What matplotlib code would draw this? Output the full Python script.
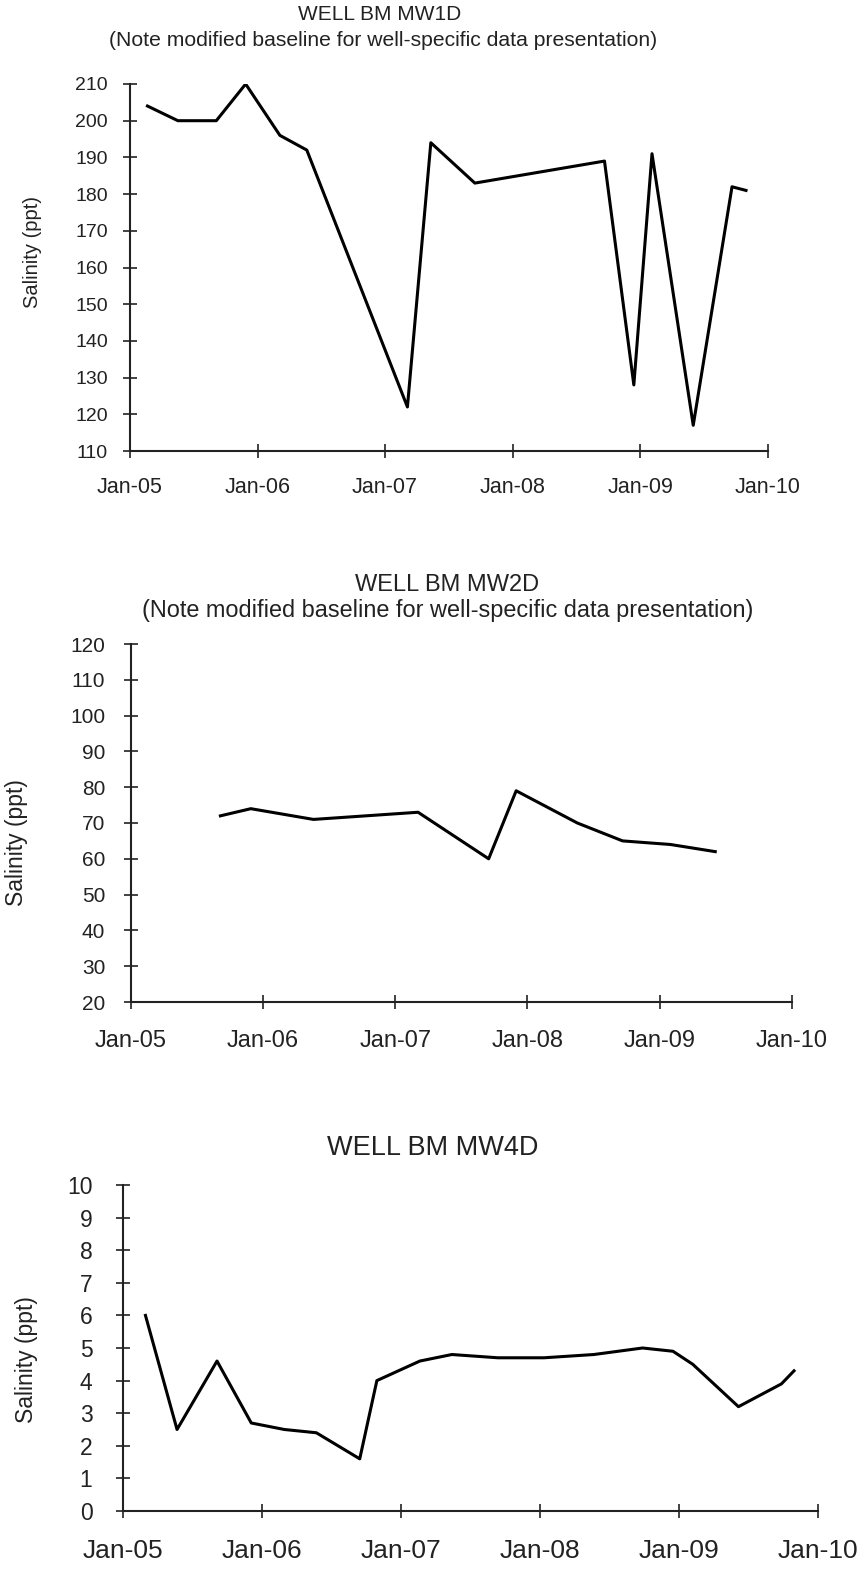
from datetime import date
import matplotlib
matplotlib.use("Agg")
import matplotlib.pyplot as plt
import matplotlib.dates as mdates

plt.rcParams['font.family'] = ['Liberation Sans', 'DejaVu Sans']

# Well BM MW1D
mw1d_dates = ["2005-02-20", "2005-05-18", "2005-09-05", "2005-11-28", "2006-03-06",
              "2006-05-22", "2007-03-06", "2007-05-12", "2007-09-15", "2008-09-20",
              "2008-12-13", "2009-02-03", "2009-06-01", "2009-09-20", "2009-10-30"]
mw1d_salinity = [204, 200, 200, 210, 196, 192, 122, 194, 183, 189, 128, 191, 117, 182, 181]

# Well BM MW2D
mw2d_dates = ["2005-09-05", "2005-11-28", "2006-05-20", "2007-03-05", "2007-09-16",
              "2007-12-01", "2008-05-18", "2008-09-20", "2009-01-30", "2009-06-03"]
mw2d_salinity = [72, 74, 71, 73, 60, 79, 70, 65, 64, 62]

# Well BM MW4D
mw4d_dates = ["2005-03-01", "2005-05-23", "2005-09-05", "2005-12-04", "2006-03-01",
              "2006-05-24", "2006-09-15", "2006-10-30", "2007-02-20", "2007-05-15",
              "2007-09-13", "2008-01-12", "2008-05-22", "2008-09-27", "2008-12-16",
              "2009-02-06", "2009-06-06", "2009-09-27", "2009-10-30"]
mw4d_salinity = [6.0, 2.5, 4.6, 2.7, 2.5, 2.4, 1.6, 4.0, 4.6, 4.8,
                 4.7, 4.7, 4.8, 5.0, 4.9, 4.5, 3.2, 3.9, 4.3]

subtitle = "(Note modified baseline for well-specific data presentation)"
year_ticks = [date(y, 1, 1) for y in range(2005, 2011)]

W, H = 866, 1574
fig = plt.figure(figsize=(W / 100, H / 100), dpi=100)


def px_axes(left, right, top, bottom):
    return fig.add_axes([left / W, 1 - bottom / H, (right - left) / W, (bottom - top) / H])


def draw_panel(ax, dates, values, ylim, ystep, yfs, xfs, ypad, xpad):
    ax.plot([date.fromisoformat(d) for d in dates], values, color='black', lw=2.2)
    ax.set_xlim(year_ticks[0], year_ticks[-1])
    ax.set_ylim(*ylim)
    ax.set_xticks(year_ticks)
    ax.xaxis.set_major_formatter(mdates.DateFormatter('%b-%y'))
    ax.set_yticks(range(ylim[0], ylim[1] + 1, ystep))
    for s in ['top', 'right']:
        ax.spines[s].set_visible(False)
    for s in ['left', 'bottom']:
        ax.spines[s].set_linewidth(1.5)
        ax.spines[s].set_color('#222222')
    ax.tick_params(axis='both', direction='inout', length=10, width=1.2, color='#222222')
    ax.tick_params(axis='y', labelsize=yfs, pad=ypad, labelcolor='#222222')
    ax.tick_params(axis='x', labelsize=xfs, pad=xpad, labelcolor='#222222')


# Panel 1
ax1 = px_axes(130, 768, 84, 451)
draw_panel(ax1, mw1d_dates, mw1d_salinity, (110, 210), 10, 14, 15.5, 11, 13.5)
fig.text(380 / W, 1 - 15 / H, "WELL BM MW1D", ha='center', va='center', fontsize=15, color='#222222')
fig.text(383 / W, 1 - 40 / H, subtitle, ha='center', va='center', fontsize=15.2, color='#222222')
fig.text(32 / W, 1 - 252 / H, "Salinity (ppt)", rotation=90, ha='center', va='center', fontsize=14.5, color='#222222')

# Panel 2
ax2 = px_axes(131, 792, 644, 1002)
draw_panel(ax2, mw2d_dates, mw2d_salinity, (20, 120), 10, 15, 17, 13.5, 15.5)
fig.text(447 / W, 1 - 585 / H, "WELL BM MW2D", ha='center', va='center', fontsize=17, color='#222222')
fig.text(448 / W, 1 - 610 / H, subtitle, ha='center', va='center', fontsize=16.9, color='#222222')
fig.text(17 / W, 1 - 843 / H, "Salinity (ppt)", rotation=90, ha='center', va='center', fontsize=16.5, color='#222222')

# Panel 3
ax3 = px_axes(123, 818, 1185, 1511)
draw_panel(ax3, mw4d_dates, mw4d_salinity, (0, 10), 1, 16.5, 19, 17, 15)
fig.text(433 / W, 1 - 1148 / H, "WELL BM MW4D", ha='center', va='center', fontsize=19.5, color='#222222')
fig.text(27 / W, 1 - 1360 / H, "Salinity (ppt)", rotation=90, ha='center', va='center', fontsize=16.5, color='#222222')

fig.savefig("out.png", dpi=100, facecolor='white')
